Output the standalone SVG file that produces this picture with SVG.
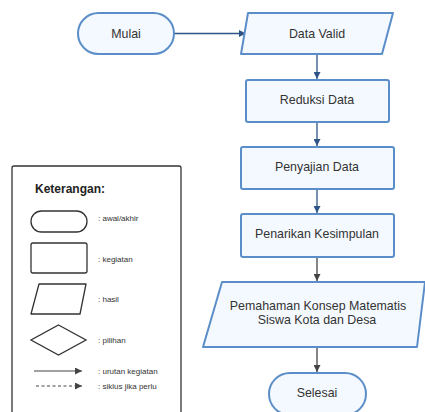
<svg xmlns="http://www.w3.org/2000/svg" width="425" height="412" viewBox="0 0 425 412">
<defs>
<style>
.node{fill:#f4f9ff;stroke:#5b8ec8;stroke-width:2;}
.lg{fill:#fff;stroke:#333;stroke-width:1.3;}
.t{font-family:"Liberation Sans",Arial,sans-serif;font-size:12.4px;fill:#333;text-anchor:middle;dominant-baseline:central;}
.lt{font-family:"Liberation Sans",Arial,sans-serif;font-size:8px;fill:#333;dominant-baseline:central;}
.cb{stroke:#2f5586;stroke-width:1.3;fill:none;}
.cg{stroke:#444;stroke-width:1.3;fill:none;}
</style>
<marker id="ab" viewBox="0 0 10 10" refX="10" refY="5" markerWidth="7" markerHeight="7" markerUnits="userSpaceOnUse" orient="auto"><path d="M0,0 L10,5 L0,10 z" fill="#2f5586"/></marker>
<marker id="ag" viewBox="0 0 10 10" refX="10" refY="5" markerWidth="7" markerHeight="7" markerUnits="userSpaceOnUse" orient="auto"><path d="M0,0 L10,5 L0,10 z" fill="#444"/></marker>
</defs>
<rect width="425" height="412" fill="#fff"/>
<g id="connectors">
<line class="cb" x1="174" y1="33.5" x2="246" y2="33.5" marker-end="url(#ab)"/>
<line class="cb" x1="317" y1="54" x2="317" y2="79" marker-end="url(#ab)"/>
<line class="cb" x1="317" y1="122" x2="317" y2="146" marker-end="url(#ab)"/>
<line class="cb" x1="317" y1="189" x2="317" y2="213" marker-end="url(#ab)"/>
<line class="cg" x1="317" y1="257" x2="317" y2="281" marker-end="url(#ag)"/>
<line class="cg" x1="317" y1="347" x2="317" y2="372" marker-end="url(#ag)"/>
</g>
<g id="mulai"><rect class="node" x="78" y="13" width="96" height="41" rx="20.5"/><text class="t" x="126" y="33.5">Mulai</text></g>
<g id="data-valid"><path class="node" d="M248,13 L393,13 L382,54 L241,54 Z" stroke-linejoin="round"/><text class="t" x="317" y="33.5">Data Valid</text></g>
<g id="reduksi"><rect class="node" x="246" y="80" width="143" height="42" rx="2"/><text class="t" x="317" y="100">Reduksi Data</text></g>
<g id="penyajian"><rect class="node" x="241" y="147" width="153" height="42" rx="2"/><text class="t" x="317" y="167">Penyajian Data</text></g>
<g id="penarikan"><rect class="node" x="241" y="214" width="153" height="43" rx="2"/><text class="t" x="317" y="233.5">Penarikan Kesimpulan</text></g>
<g id="pemahaman"><path class="node" d="M222,282 L425,282 L417,347 L203,347 Z" stroke-linejoin="round"/><text class="t" x="318" y="306">Pemahaman Konsep Matematis</text><text class="t" x="317" y="320">Siswa Kota dan Desa</text></g>
<g id="selesai"><rect class="node" x="269" y="373" width="97" height="42" rx="21"/><text class="t" x="317" y="393">Selesai</text></g>
<g id="legend">
<rect x="12" y="166" width="169" height="260" rx="2" fill="#fff" stroke="#333" stroke-width="1.3"/>
<text x="35" y="189" font-family="Liberation Sans,Arial,sans-serif" font-size="12" font-weight="bold" fill="#222" dominant-baseline="central">Keterangan:</text>
<rect class="lg" x="31" y="211" width="56" height="21" rx="10.5"/>
<text class="lt" x="98" y="218">: awal/akhir</text>
<rect class="lg" x="31" y="243" width="56" height="30" rx="2"/>
<text class="lt" x="98" y="259">: kegiatan</text>
<path class="lg" d="M39,284 L86,284 L80,314 L31,314 Z" stroke-linejoin="round"/>
<text class="lt" x="98" y="299">: hasil</text>
<path class="lg" d="M58.5,325 L86,340 L58.5,355 L31,340 Z"/>
<text class="lt" x="98" y="340">: pilihan</text>
<line x1="34" y1="371" x2="82" y2="371" stroke="#444" stroke-width="1.2" marker-end="url(#ag)"/>
<text class="lt" x="98" y="371">: urutan kegiatan</text>
<line x1="36" y1="386" x2="82" y2="386" stroke="#444" stroke-width="1" stroke-dasharray="3,2.5" marker-end="url(#ag)"/>
<text class="lt" x="98" y="386">: siklus jika perlu</text>
</g>
</svg>
